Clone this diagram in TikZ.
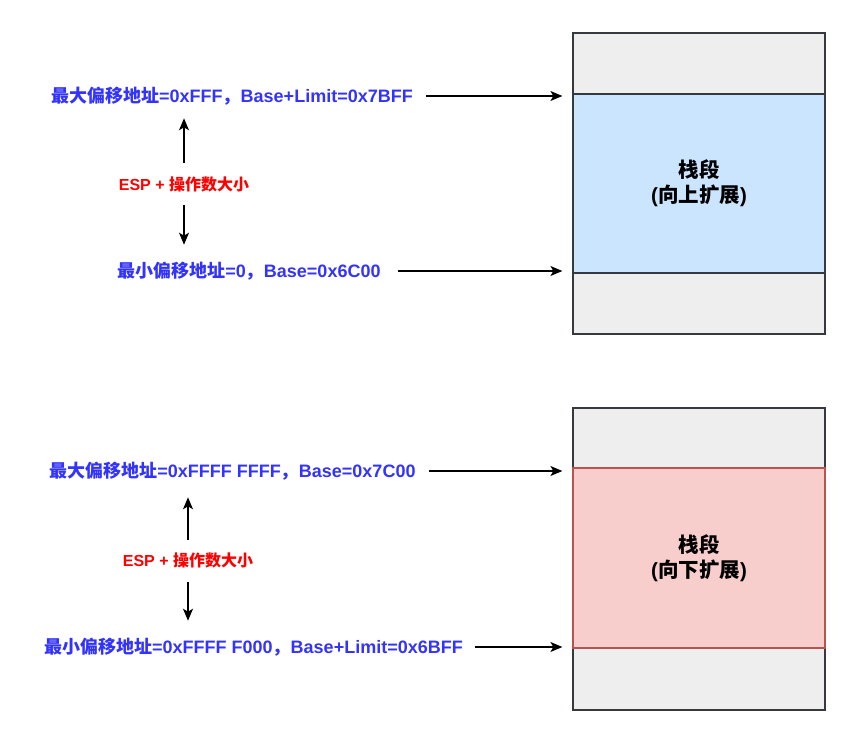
\documentclass[tikz,border=0pt]{standalone}
\usepackage{fontspec}
\setmainfont{Liberation Sans}
\newfontfamily\cjk{Noto Sans CJK SC}
\usetikzlibrary{arrows.meta}
\definecolor{lblue}{HTML}{3333FF}
\definecolor{gfill}{HTML}{EEEEEE}
\definecolor{gstroke}{HTML}{36393D}
\definecolor{bfill}{HTML}{CCE5FF}
\definecolor{rfill}{HTML}{F8CECC}
\definecolor{rstroke}{HTML}{B85450}
\tikzset{
  outer/.style={draw=gstroke, fill=gfill, line width=1.2pt, minimum width=252pt, inner sep=0pt},
  band/.style={draw=gstroke, fill=bfill, line width=1.2pt, minimum width=252pt, inner sep=0pt, align=center, font=\fontsize{20.5}{25}\selectfont\bfseries},
  addr/.style={text=lblue, inner sep=0pt, font=\fontsize{18}{22}\selectfont\bfseries},
  esp/.style={text=red, inner sep=0pt, font=\fontsize{16}{20}\selectfont\bfseries},
  arr/.style={-{Stealth[length=12pt,width=10pt,inset=3pt]}, line width=1.3pt, black},
}
\begin{document}
\begin{tikzpicture}[x=1pt,y=-1pt]
\useasboundingbox (0,0) rectangle (862,737);
% top stack
\node[outer, minimum height=301pt] (box1) at (699,183.5) {};
\node[band, minimum height=179pt] (band1) at (699,183.5) {{\cjk 栈段}\\({\cjk 向上扩展})};
\node[addr] (l1) at (232,96) {{\cjk 最大偏移地址}=0xFFF{\cjk ，}Base+Limit=0x7BFF};
\node[addr] (l2) at (249,271) {{\cjk 最小偏移地址}=0{\cjk ，}Base=0x6C00};
\node[esp] (e1) at (184,184) {ESP + {\cjk 操作数大小}};
\draw[arr, shorten <=13pt, shorten >=10pt] (l1.east) -- (l1.east -| band1.west);
\draw[arr, shorten <=17pt, shorten >=10pt] (l2.east) -- (l2.east -| band1.west);
\draw[arr, shorten <=13pt, shorten >=13pt] (e1.north) -- (e1.north |- l1.south);
\draw[arr, shorten <=13pt, shorten >=17pt] (e1.south) -- (e1.south |- l2.north);
% bottom stack
\node[outer, minimum height=302pt] (box2) at (699,559) {};
\node[band, draw=rstroke, fill=rfill, minimum height=180pt] (band2) at (699,558) {{\cjk 栈段}\\({\cjk 向下扩展})};
\node[addr] (l3) at (232.5,471) {{\cjk 最大偏移地址}=0xFFFF FFFF{\cjk ，}Base=0x7C00};
\node[addr] (l4) at (253.5,647) {{\cjk 最小偏移地址}=0xFFFF F000{\cjk ，}Base+Limit=0x6BFF};
\node[esp] (e2) at (188,560) {ESP + {\cjk 操作数大小}};
\draw[arr, shorten <=13pt, shorten >=10pt] (l3.east) -- (l3.east -| band2.west);
\draw[arr, shorten <=12pt, shorten >=10pt] (l4.east) -- (l4.east -| band2.west);
\draw[arr, shorten <=12pt, shorten >=17pt] (e2.north) -- (e2.north |- l3.south);
\draw[arr, shorten <=14pt, shorten >=17pt] (e2.south) -- (e2.south |- l4.north);
\end{tikzpicture}
\end{document}
